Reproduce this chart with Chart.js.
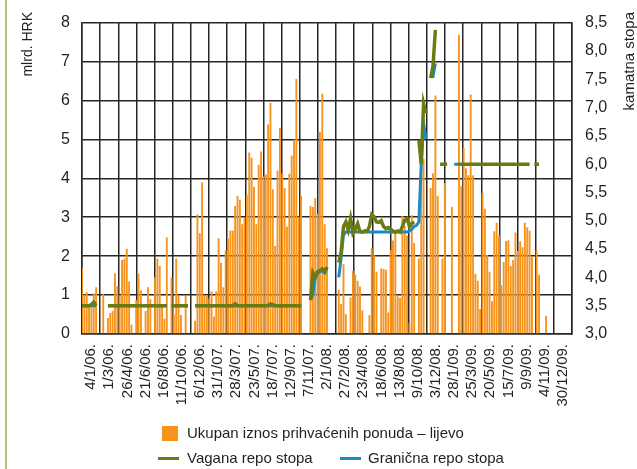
<!DOCTYPE html>
<html>
<head>
<meta charset="utf-8">
<script src="https://cdn.jsdelivr.net/npm/chart.js@4.4.0/dist/chart.umd.min.js"></script>
<style>
  html, body { margin: 0; padding: 0; background: #fff; }
  #wrap { position: relative; width: 637px; height: 469px; overflow: hidden; }
  #edge { position: absolute; left: 5px; top: 0; width: 2px; height: 469px; background: #aac57f; }
  #chart { position: absolute; left: 0; top: 0; }
  .lg { position: absolute; font: 15px "Liberation Sans Narrow", "Liberation Sans", sans-serif; color: #231f20; line-height: 18px; white-space: nowrap; }
  .sw { position: absolute; }
</style>
</head>
<body>
<div id="wrap">
  <canvas id="chart" width="637" height="469"></canvas>
  <div id="edge"></div>
  <div class="sw" style="left:162px;top:426px;width:16px;height:15px;background:#f7941d"></div>
  <div class="lg" style="left:187px;top:424px">Ukupan iznos prihvaćenih ponuda – lijevo</div>
  <div class="sw" style="left:158px;top:457px;width:21px;height:3px;background:#6b7a12"></div>
  <div class="lg" style="left:187px;top:449px">Vagana repo stopa</div>
  <div class="sw" style="left:340px;top:457px;width:21px;height:3px;background:#1a8bc9"></div>
  <div class="lg" style="left:368px;top:449px">Granična repo stopa</div>
</div>
<script>
// DATA - weekly repo auctions, 4/1/06 - 30/12/09

const tickLabels = ['4/1/06.', '1/3/06.', '26/4/06.', '21/6/06.', '16/8/06.', '11/10/06.', '6/12/06.',
  '31/1/07.', '28/3/07.', '23/5/07.', '18/7/07.', '12/9/07.', '7/11/07.', '2/1/08.', '27/2/08.',
  '23/4/08.', '18/6/08.', '13/8/08.', '9/10/08.', '3/12/08.', '28/1/09.', '25/3/09.', '20/5/09.',
  '15/7/09.', '9/9/09.', '4/11/09.', '30/12/09.']

// accepted bids, bn HRK (left axis)
const amounts2006 = [1.71, 1.01, 1.07, 0.75, 0.70, 1.04, 1.20, 0, 0, 1.02,
  0, 0.41, 0.54, 0.59, 1.56, 1.23, 0.99, 1.90, 1.94, 2.19,
  1.35, 0.24, 0, 0.87, 1.55, 1.12, 0, 0.59, 1.20, 0.89,
  0, 1.46, 1.94, 1.75, 0.72, 0.39, 2.48, 0, 1.46, 0.51,
  1.94, 0.99, 0.49, 0, 0.98, 0, 0, 0, 0.34, 3.07,
  2.59, 3.90]
const amounts2007 = [0.99, 1.00, 0.91, 1.10, 0.45, 1.10, 2.46, 1.83, 1.20, 2.15,
  2.46, 2.66, 2.65, 3.29, 3.55, 3.45, 2.82, 3.00, 3.58, 4.66,
  4.53, 3.78, 2.82, 4.35, 4.69, 4.05, 4.10, 5.39, 5.94, 3.72,
  2.26, 4.20, 5.29, 4.12, 3.75, 2.76, 4.12, 4.58, 4.99, 6.55,
  3.01, 3.55, 0, 0, 0, 3.29, 3.26, 3.49, 3.09, 5.19,
  6.17, 2.82]
const amounts2008 = [2.20, 0, 0, 0, 0, 1.14, 0.77, 1.79, 0.51, 0,
  0.94, 1.62, 1.52, 1.37, 1.22, 0.61, 0, 0, 0.49, 2.20,
  2.02, 1.60, 0, 1.68, 1.67, 1.65, 0.55, 2.16, 2.40, 2.60,
  0.97, 0.93, 3.03, 2.78, 2.53, 0.28, 3.05, 2.34, 0, 1.94,
  4.30, 4.50, 0, 0, 3.75, 4.13, 6.13, 3.55, 0, 1.94,
  3.87, 0, 0]
const amounts2009 = [3.27, 0, 0, 7.69, 3.80, 4.78, 4.26, 4.08, 6.15, 4.08,
  1.55, 1.37, 0.64, 3.62, 3.22, 2.03, 1.60, 0.84, 2.64, 2.86,
  2.53, 1.25, 1.85, 2.39, 2.41, 1.75, 1.90, 2.61, 2.13, 2.38,
  2.23, 2.86, 2.74, 2.65, 1.98, 0, 2.15, 1.52, 0, 0,
  0.47, 0, 0, 0, 0, 0, 0, 0, 0, 0,
  0, 0]

// weighted repo rate, % (right axis)
const weighted2006 = [3.5, 3.5, 3.5, 3.5, 3.52, 3.56, 3.5, null, null, null,
  null, 3.5, 3.5, 3.5, 3.5, 3.5, 3.5, 3.5, 3.5, 3.5,
  3.5, 3.5, 3.5, 3.5, 3.5, 3.5, 3.5, 3.5, 3.5, 3.5,
  3.5, 3.5, 3.5, 3.5, 3.5, 3.5, 3.5, null, 3.5, 3.5,
  3.5, 3.5, 3.5, 3.5, 3.5, 3.5, null, null, 3.5, 3.5,
  3.5, 3.5]
const weighted2007 = [3.5, 3.5, 3.5, 3.5, 3.5, 3.5, 3.5, 3.5, 3.5, 3.5,
  3.5, 3.5, 3.5, 3.53, 3.5, 3.5, 3.5, 3.5, 3.5, 3.5,
  3.5, 3.5, 3.5, 3.5, 3.5, 3.5, 3.5, 3.5, 3.53, 3.52,
  3.5, 3.5, 3.5, 3.5, 3.5, 3.5, 3.5, 3.5, 3.5, 3.5,
  3.5, 3.5, null, null, null, 3.6, 4.08, 4.0, 4.1, 4.12,
  4.15, 4.1]
const weighted2008 = [4.18, null, null, null, null, 4.26, 4.45, 4.9, 4.98, 4.84,
  5.04, 4.78, 4.85, 4.95, 4.81, 4.8, 4.82, 4.81, 4.9, 5.11,
  5.07, 4.98, 4.97, 5.0, 4.9, 4.86, 4.88, 4.85, 4.82, 4.8,
  4.82, 4.8, 4.9, 5.01, 5.04, 4.9, 4.95, 4.98, null, 6.43,
  6.0, 7.07, 6.9, null, 7.52, 7.73, 8.37, null, 6.0, 6.0,
  6.0, 6.0, null]
const weighted2009 = [null, null, null, 6.0, 6.0, 6.0, 6.0, 6.0, 6.0, 6.0,
  6.0, 6.0, 6.0, 6.0, 6.0, 6.0, 6.0, 6.0, 6.0, 6.0,
  6.0, 6.0, 6.0, 6.0, 6.0, 6.0, 6.0, 6.0, 6.0, 6.0,
  6.0, 6.0, 6.0, 6.0, null, 6.0, 6.0, 6.0, null, null,
  null, null, null, null, null, null, null, null, null, null,
  null, null]

// marginal repo rate, % (right axis)
const marginal2006 = [3.5, 3.5, 3.5, 3.5, 3.5, 3.5, 3.5, null, null, null,
  null, 3.5, 3.5, 3.5, 3.5, 3.5, 3.5, 3.5, 3.5, 3.5,
  3.5, 3.5, 3.5, 3.5, 3.5, 3.5, 3.5, 3.5, 3.5, 3.5,
  3.5, 3.5, 3.5, 3.5, 3.5, 3.5, 3.5, null, 3.5, 3.5,
  3.5, 3.5, 3.5, 3.5, 3.5, 3.5, null, null, 3.5, 3.5,
  3.5, 3.5]
const marginal2007 = [3.5, 3.5, 3.5, 3.5, 3.5, 3.5, 3.5, 3.5, 3.5, 3.5,
  3.5, 3.5, 3.5, 3.5, 3.5, 3.5, 3.5, 3.5, 3.5, 3.5,
  3.5, 3.5, 3.5, 3.5, 3.5, 3.5, 3.5, 3.5, 3.5, 3.5,
  3.5, 3.5, 3.5, 3.5, 3.5, 3.5, 3.5, 3.5, 3.5, 3.5,
  3.5, 3.5, null, null, null, 3.6, 3.7, 4.0, 4.08, 4.1,
  4.12, 4.08]
const marginal2008 = [4.18, null, null, null, null, 4.0, 4.35, 4.75, 4.8, 4.8,
  4.8, 4.8, 4.8, 4.8, 4.8, 4.8, 4.8, 4.8, 4.8, 4.8,
  4.8, 4.8, 4.8, 4.8, 4.8, 4.8, 4.8, 4.8, 4.8, 4.8,
  4.8, 4.8, 4.8, 4.8, 4.8, 4.82, 4.85, 4.9, 4.92, 4.98,
  6.0, 6.72, 6.45, null, 7.55, 7.55, 7.78, null, null, null,
  null, null, null]
const marginal2009 = [null, 6.0, 6.0, 6.0, null, null, null, null, null, null,
  null, null, null, null, null, null, null, null, null, null,
  null, null, null, null, null, null, null, null, null, null,
  null, null, null, null, null, null, null, null, null, null,
  null, null, null, null, null, null, null, null, null, null,
  null, null]

const amounts = amounts2006.concat(amounts2007, amounts2008, amounts2009)
const weighted = weighted2006.concat(weighted2007, weighted2008, weighted2009)
const marginal = marginal2006.concat(marginal2007, marginal2008, marginal2009)

// one category per week; dates are shown every 8th week on the grid axis
const weeks = amounts.map((v, i) => i)
const lastWeek = weeks.length - 1

const FONT = '"Liberation Sans Narrow", "Liberation Sans", sans-serif'
const TEXT = '#231f20'
const GRID = '#262626'

// rotated axis titles, both reading bottom-up
const axisTitles = {
  id: 'axisTitles',
  afterDraw(chart) {
    const ctx = chart.ctx
    ctx.save()
    ctx.font = '14px ' + FONT
    ctx.fillStyle = TEXT
    ctx.textAlign = 'right'
    ctx.textBaseline = 'middle'
    ctx.translate(28, 12)
    ctx.rotate(-Math.PI / 2)
    ctx.fillText('mlrd. HRK', 0, 0)
    ctx.restore()
    ctx.save()
    ctx.font = '15px ' + FONT
    ctx.fillStyle = TEXT
    ctx.textAlign = 'right'
    ctx.textBaseline = 'middle'
    ctx.translate(630, 12)
    ctx.rotate(-Math.PI / 2)
    ctx.fillText('kamatna stopa', 0, 0)
    ctx.restore()
  }
}

const dataChart = {
  labels: weeks,
  datasets: [{
    type: 'line',
    label: 'Vagana repo stopa',
    data: weighted,
    yAxisID: 'y1',
    borderColor: '#6b7a12',
    borderWidth: 3.5,
    pointRadius: 0,
    spanGaps: false,
    order: 1,
  }, {
    type: 'line',
    label: 'Granična repo stopa',
    data: marginal,
    yAxisID: 'y1',
    borderColor: '#1a8bc9',
    borderWidth: 3,
    pointRadius: 0,
    spanGaps: false,
    order: 2,
  }, {
    type: 'bar',
    label: 'Ukupan iznos prihvaćenih ponuda – lijevo',
    data: amounts,
    yAxisID: 'y',
    backgroundColor: '#f7941d',
    barPercentage: 0.85,
    categoryPercentage: 0.95,
    order: 3,
  }],
}

const configChart = {
  type: 'bar',
  data: dataChart,
  plugins: [axisTitles],
  options: {
    responsive: false,
    animation: false,
    layout: { padding: { top: 17, left: 0, right: 0, bottom: 0 } },
    plugins: {
      legend: { display: false },
      tooltip: { enabled: false }
    },
    scales: {
      x: {
        type: 'category',
        offset: false,
        display: false
      },
      xg: {
        type: 'linear',
        position: 'bottom',
        min: 0,
        max: lastWeek,
        grid: { drawTicks: false, lineWidth: 1.5, color: GRID },
        border: { color: GRID, width: 1.5 },
        ticks: {
          stepSize: 8,
          autoSkip: false,
          minRotation: 90,
          maxRotation: 90,
          padding: 10,
          color: TEXT,
          font: { family: FONT, size: 15 },
          callback: (v) => tickLabels[Math.round(v / 8)]
        },
        afterFit: (s) => { s.height = 135 }
      },
      y: {
        position: 'left',
        min: 0,
        max: 8,
        grid: { drawTicks: false, lineWidth: 1.5, color: GRID },
        border: { color: GRID, width: 1.5 },
        ticks: { stepSize: 1, padding: 12, color: TEXT, font: { family: FONT, size: 16 } },
        afterFit: (s) => { s.width = 82 }
      },
      y1: {
        position: 'right',
        min: 3,
        max: 8.5,
        grid: { drawOnChartArea: false, drawTicks: false },
        border: { color: GRID, width: 1.5 },
        ticks: {
          stepSize: 0.5,
          padding: 13,
          color: TEXT,
          font: { family: FONT, size: 16 },
          callback: (v) => v.toFixed(1).replace('.', ',')
        },
        afterFit: (s) => { s.width = 65 }
      }
    }
  }
}

const chart = new Chart(
  document.getElementById('chart'),
  configChart
)
</script>
</body>
</html>
